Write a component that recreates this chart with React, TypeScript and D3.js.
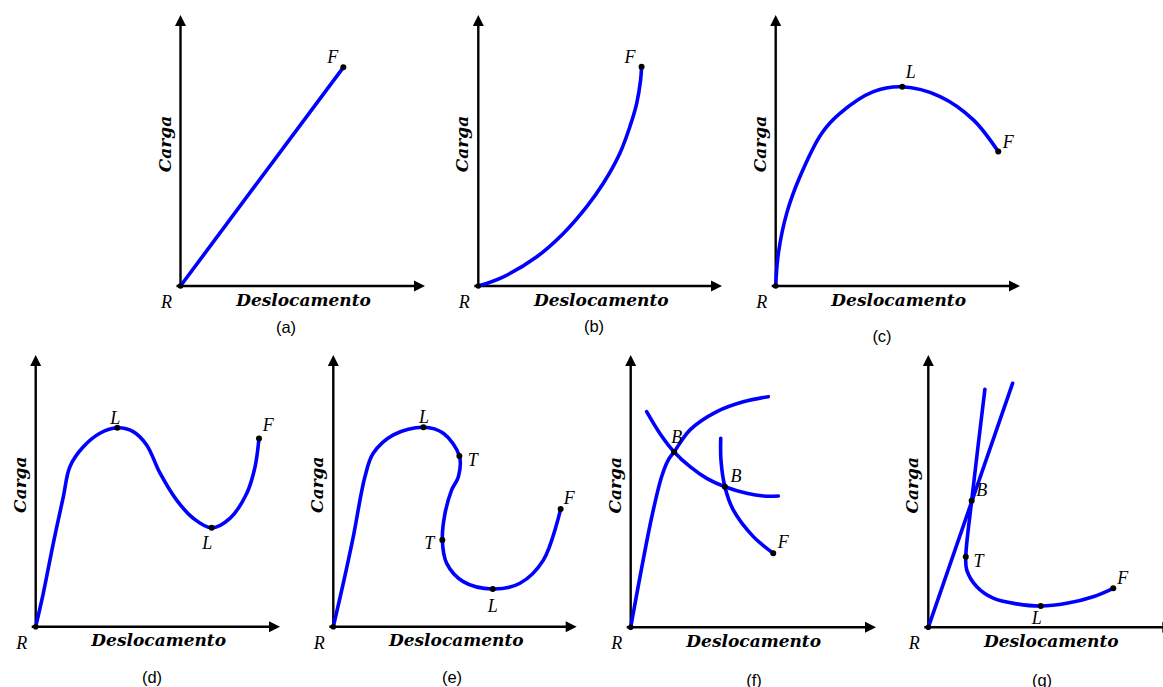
import React from "react";
import * as d3 from "d3";

type Pt = [number, number];
type Mark = { label: string; x: number; y: number };

// ---- data: (deslocamento, carga) in axis units, axis arrow tips at 10 ----
const curveA: Pt[] = [[0, 0], [6.66, 8.07]];
const curveB: Pt[] = [[0, 0], [1.03, 0.34], [2.4, 1.08], [3.49, 1.94], [4.45, 2.93], [5.13, 3.79], [5.81, 4.9], [6.22, 5.88], [6.5, 6.74], [6.66, 7.6], [6.7, 8.09]];
const curveC: Pt[] = [[0, 0], [0.11, 1.21], [0.45, 2.68], [0.99, 4.03], [1.88, 5.63], [2.63, 6.37], [4.0, 7.17], [5.18, 7.35], [6.73, 6.99], [8.09, 6.13], [9.11, 4.96]];
const curveD: Pt[] = [[0, 0], [0.31, 1.23], [0.72, 3.07], [1.13, 4.78], [1.4, 5.89], [1.95, 6.62], [2.63, 7.12], [3.34, 7.32], [3.99, 7.18], [4.54, 6.69], [5.09, 5.65], [5.77, 4.66], [6.45, 3.99], [7.2, 3.64], [7.95, 3.99], [8.64, 4.91], [8.98, 5.89], [9.14, 6.93]];
const curveE: Pt[] = [[0, 0], [0.41, 1.6], [0.82, 3.31], [1.3, 5.52], [1.64, 6.38], [2.47, 7.06], [3.7, 7.34], [4.52, 7.12], [5.18, 6.28], [5.14, 5.52], [4.86, 5.03], [4.59, 4.17], [4.48, 3.19], [4.66, 2.33], [5.34, 1.66], [6.55, 1.39], [7.67, 1.6], [8.63, 2.45], [9.34, 4.33]];
const curveF1: Pt[] = [[0, 0], [0.38, 1.86], [0.86, 4.06], [1.26, 5.53], [1.53, 6.14], [1.77, 6.44], [2.42, 7.25], [3.51, 7.92], [4.59, 8.28], [5.61, 8.47]];
const curveF2: Pt[] = [[0.65, 7.92], [1.19, 7.12], [1.77, 6.44], [2.42, 5.9], [3.1, 5.47], [3.84, 5.16], [4.73, 4.92], [5.41, 4.82], [6.02, 4.82]];
const curveF3: Pt[] = [[3.67, 6.94], [3.68, 6.14], [3.84, 5.16], [4.18, 4.31], [5.0, 3.33], [5.81, 2.72]];
const curveG1: Pt[] = [[0, 0], [3.44, 8.96]];
const curveG2: Pt[] = [[2.31, 8.74], [1.77, 4.65], [1.53, 2.59], [1.57, 2.1], [1.98, 1.49], [2.65, 1.07], [3.61, 0.86], [4.59, 0.78], [5.65, 0.88], [6.73, 1.12], [7.55, 1.43]];

const marksA: Mark[] = [{ label: "F", x: 6.66, y: 8.07 }];
const marksB: Mark[] = [{ label: "F", x: 6.7, y: 8.09 }];
const marksC: Mark[] = [{ label: "L", x: 5.18, y: 7.35 }, { label: "F", x: 9.11, y: 4.96 }];
const marksD: Mark[] = [{ label: "L", x: 3.34, y: 7.32 }, { label: "L", x: 7.2, y: 3.64 }, { label: "F", x: 9.14, y: 6.93 }];
const marksE: Mark[] = [{ label: "L", x: 3.7, y: 7.34 }, { label: "T", x: 5.18, y: 6.28 }, { label: "T", x: 4.48, y: 3.19 }, { label: "L", x: 6.55, y: 1.39 }, { label: "F", x: 9.34, y: 4.33 }];
const marksF: Mark[] = [{ label: "B", x: 1.77, y: 6.44 }, { label: "B", x: 3.84, y: 5.16 }, { label: "F", x: 5.81, y: 2.72 }];
const marksG: Mark[] = [{ label: "B", x: 1.77, y: 4.65 }, { label: "T", x: 1.53, y: 2.59 }, { label: "L", x: 4.59, y: 0.78 }, { label: "F", x: 7.55, y: 1.43 }];

const captions = ["(a)", "(b)", "(c)", "(d)", "(e)", "(f)", "(g)"];
const xTitle = "Deslocamento";
const yTitle = "Carga";
const originLabel = "R";

// ---- layout (pixels) ----
const layout = [
  { ox: 180.5, oy: 286, lx: 244.5, ly: 271, cx: 286, cy: 327, offs: [[-10.6, -10.3]] },
  { ox: 478.3, oy: 286, lx: 243.7, ly: 271, cx: 594, cy: 326, offs: [[-11.7, -10]] },
  { ox: 775.7, oy: 286, lx: 244.3, ly: 271, cx: 882, cy: 336, offs: [[8.4, -15], [10, -10]] },
  { ox: 35.7, oy: 626.7, lx: 244.3, ly: 271.7, cx: 152, cy: 677, offs: [[-2, -10], [-4.4, 15.6], [9.3, -13.3]] },
  { ox: 333.3, oy: 626.7, lx: 243.4, ly: 271.7, cx: 452, cy: 677, offs: [[0.7, -10.6], [13.4, 4], [-13, 2.7], [0, 17], [8.6, -10.7]] },
  { ox: 630.7, oy: 627.3, lx: 245.3, ly: 272.3, cx: 754, cy: 680, offs: [[2.7, -14.7], [11, -10.7], [10, -11.6]] },
  { ox: 928.3, oy: 627.3, lx: 245, ly: 272.3, cx: 1042, cy: 680, offs: [[10, -10.7], [12.6, 4], [-4, 12.3], [9.4, -10]] },
];

const panelCurves: Pt[][][] = [[curveA], [curveB], [curveC], [curveD], [curveE], [curveF1, curveF2, curveF3], [curveG1, curveG2]];
const panelMarks: Mark[][] = [marksA, marksB, marksC, marksD, marksE, marksF, marksG];

const BLUE = "#0000ff";
const SERIF = "'Liberation Serif', 'DejaVu Serif', serif";

function Panel({ i }: { i: number }) {
  const L = layout[i];
  const x = d3.scaleLinear().domain([0, 10]).range([L.ox, L.ox + L.lx]);
  const y = d3.scaleLinear().domain([0, 10]).range([L.oy, L.oy - L.ly]);
  const line = d3
    .line<Pt>()
    .x((d) => x(d[0]))
    .y((d) => y(d[1]))
    .curve(d3.curveCatmullRom.alpha(0.5));
  const x0 = x(0), y0 = y(0), xe = x(10), ye = y(10);
  const ah = 11, aw = 5.5;
  return (
    <g>
      {/* axes */}
      <line x1={x0 - 4} y1={y0} x2={xe - ah + 1} y2={y0} stroke="#000" strokeWidth={2.4} />
      <line x1={x0} y1={y0 + 2} x2={x0} y2={ye + ah - 1} stroke="#000" strokeWidth={2.4} />
      <path d={`M${xe},${y0} L${xe - ah},${y0 - aw} L${xe - ah},${y0 + aw} Z`} fill="#000" />
      <path d={`M${x0},${ye} L${x0 - aw},${ye + ah} L${x0 + aw},${ye + ah} Z`} fill="#000" />
      {/* curves */}
      {panelCurves[i].map((c, k) => (
        <path key={k} d={line(c) || ""} fill="none" stroke={BLUE} strokeWidth={3.6} strokeLinecap="round" strokeLinejoin="round" />
      ))}
      {/* origin */}
      <circle cx={x0} cy={y0} r={2.8} fill="#000" />
      <text x={x0 - 14} y={y0 + 22} fontFamily={SERIF} fontStyle="italic" fontSize={18} textAnchor="middle">{originLabel}</text>
      {/* marks */}
      {panelMarks[i].map((m, k) => (
        <g key={k}>
          <circle cx={x(m.x)} cy={y(m.y)} r={3} fill="#000" />
          <text x={x(m.x) + L.offs[k][0]} y={y(m.y) + L.offs[k][1] + 6} fontFamily={SERIF} fontStyle="italic" fontSize={18} textAnchor="middle">{m.label}</text>
        </g>
      ))}
      {/* axis titles */}
      <text x={x0 + 123} y={y0 + 19.5} fontFamily="'DejaVu Serif', serif" fontStyle="italic" fontWeight="bold" fontSize={17} textAnchor="middle">{xTitle}</text>
      <text transform={`translate(${x0 - 10},${y0 - 142}) rotate(-90)`} fontFamily="'DejaVu Serif', serif" fontStyle="italic" fontWeight="bold" fontSize={17} textAnchor="middle">{yTitle}</text>
      {/* caption */}
      <text x={L.cx} y={L.cy + 5.5} fontFamily="'Liberation Sans', Arial, sans-serif" fontSize={16.5} textAnchor="middle">{captions[i]}</text>
    </g>
  );
}

export default function App() {
  return (
    <svg width={1163} height={687} style={{ position: "absolute", left: 0, top: 0, background: "#fff" }}>
      <rect width={1163} height={687} fill="#fff" />
      {layout.map((_, i) => (
        <Panel key={i} i={i} />
      ))}
    </svg>
  );
}
